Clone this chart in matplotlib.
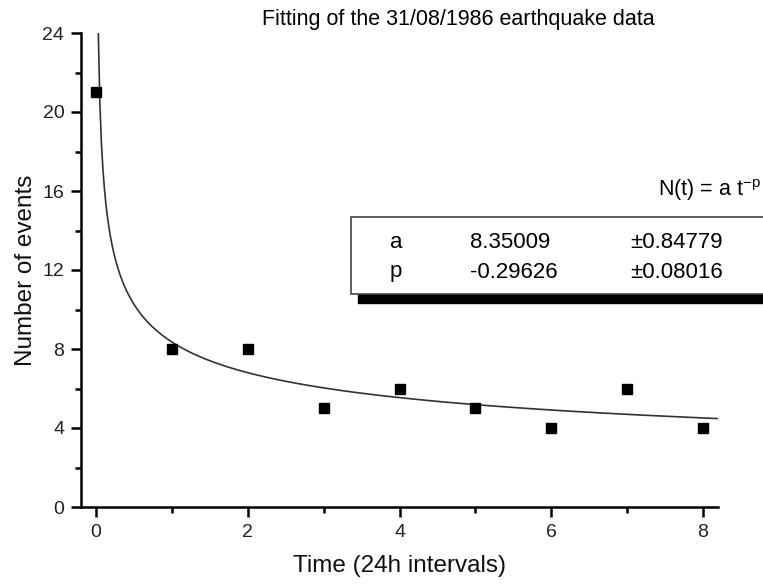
import numpy as np
import matplotlib
matplotlib.use('Agg')
import matplotlib.pyplot as plt
from matplotlib.patches import Rectangle

plt.rcParams['font.family'] = ['Liberation Sans', 'DejaVu Sans']

# observed events per 24h interval
t_obs = [0, 1, 2, 3, 4, 5, 6, 7, 8]
n_obs = [21, 8, 8, 5, 6, 5, 4, 6, 4]

# fitted power law N(t) = a t^-p
a_fit = 8.35009
p_fit = -0.29626
a_err = 0.84779
p_err = 0.08016

fig = plt.figure(figsize=(7.63, 5.87), dpi=100)
ax = fig.add_axes([81 / 763, 80 / 587, (718 - 81) / 763, (507 - 33) / 587])

t_fit = np.linspace(0.028, 8.2, 400)
ax.plot(t_fit, a_fit * t_fit ** p_fit, color='#333333', lw=1.2)
ax.plot(t_obs, n_obs, 's', color='black', ms=6.5, ls='none')

ax.set_xlim(-0.2, 8.2)
ax.set_ylim(0, 24)
ax.set_xticks([0, 2, 4, 6, 8])
ax.set_xticks([1, 3, 5, 7], minor=True)
ax.set_yticks([0, 4, 8, 12, 16, 20, 24])
ax.set_yticks([2, 6, 10, 14, 18, 22], minor=True)
for s in ['top', 'right']:
    ax.spines[s].set_visible(False)
for s in ['left', 'bottom']:
    ax.spines[s].set_linewidth(1.8)
ax.tick_params(which='major', direction='out', length=7, width=1.8,
               labelsize=14, colors='black', labelcolor='#222222', pad=5)
ax.tick_params(which='minor', direction='out', length=4, width=1.8)
ax.set_xlabel('Time (24h intervals)', fontsize=17.5, labelpad=10, color='#111111')
ax.set_ylabel('Number of events', fontsize=17.5, color='#111111')
ax.yaxis.set_label_coords((37 - 81) / 637, 0.5)

fig.text(458 / 763, 1 - 19 / 587, 'Fitting of the 31/08/1986 earthquake data',
         ha='center', va='center', fontsize=15.5)

# parameter table
fig.text(761 / 763, 1 - 190 / 587, r'N(t) = a t$^{\mathregular{-p}}$',
         ha='right', va='center', fontsize=15.5)
fig.patches.append(Rectangle((358 / 763, 1 - 303 / 587), 1, 10 / 587,
                             transform=fig.transFigure, color='black', zorder=2))
fig.patches.append(Rectangle((351 / 763, 1 - 294 / 587), 1, 77 / 587,
                             transform=fig.transFigure, facecolor='white',
                             edgecolor='#444444', lw=1.2, zorder=3))
rows = [('a', f'{a_fit:.5f}', f'\u00b1{a_err:.5f}'),
        ('p', f'{p_fit:.5f}', f'\u00b1{p_err:.5f}')]
for i, (name, val, err) in enumerate(rows):
    y = 1 - (242 + 30 * i) / 587
    fig.text(390 / 763, y, name, ha='left', va='center', fontsize=16, zorder=4)
    fig.text(470 / 763, y, val, ha='left', va='center', fontsize=16, zorder=4)
    fig.text(630 / 763, y, err, ha='left', va='center', fontsize=16, zorder=4)

fig.savefig('out.png', dpi=100)
